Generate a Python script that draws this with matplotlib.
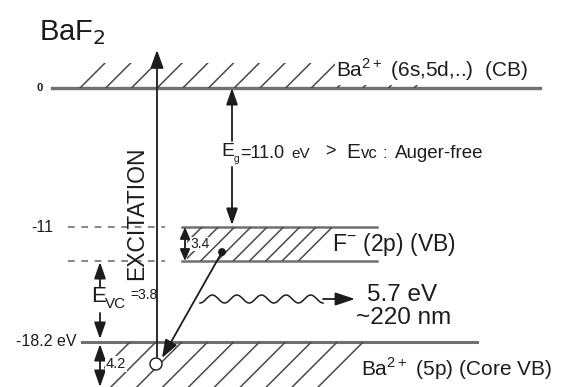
import numpy as np
import matplotlib.pyplot as plt
from matplotlib.patches import Rectangle, Circle

plt.rcParams['font.family'] = ['Liberation Sans', 'DejaVu Sans']

# energies (eV) of the band edges and the gaps written on the diagram
level_energy = [0, -11, -18.2]
level_text = ["0", "-11", "-18.2 eV"]
band_gap = 11.0
vb_width = 3.4
e_vc = 3.8
core_width = 4.2
photon_ev = 5.7
photon_nm = 220

# layout of the schematic (diagram units = pixels, not to scale)
y_cb, y_vb_top, y_vb_bot, y_core = 88, 227, 261, 342
ink = "#1c1c1c"
line_c = "#4a4a4a"
band_c = "#707070"

fig = plt.figure(figsize=(5.66, 3.87), dpi=100)
ax = fig.add_axes([0, 0, 1, 1])
ax.set_xlim(0, 566)
ax.set_ylim(387, 0)
ax.axis("off")


def arrow(x0, y0, x1, y1, hl=0.9, hw=0.35):
    ax.annotate("", xy=(x1, y1), xytext=(x0, y0),
                arrowprops=dict(arrowstyle=f"-|>,head_length={hl},head_width={hw}",
                                color=ink, lw=1.3, shrinkA=0, shrinkB=0,
                                mutation_scale=10))


def hatch(tops, dx, y_top, y_bot, xmin, xmax, lw=1.1):
    clip = Rectangle((xmin, y_top), xmax - xmin, y_bot - y_top, transform=ax.transData)
    for xt in tops:
        ln, = ax.plot([xt, xt - dx], [y_top, y_bot], color=line_c, lw=lw)
        ln.set_clip_path(clip)


def txt(x, y, s, size, **kw):
    kw.setdefault("ha", "left")
    kw.setdefault("va", "center")
    return ax.text(x, y, s, fontsize=size, color=ink, **kw)


white = dict(facecolor="white", edgecolor="none", pad=1)

# conduction band
ax.plot([52, 540], [y_cb, y_cb], color=band_c, lw=2.4)
hatch(np.arange(105, 460, 25.7), 25, 63, y_cb, 60, 460)

# valence band (F- 2p)
ax.plot([182, 377], [y_vb_top, y_vb_top], color=band_c, lw=1.8)
ax.plot([182, 377], [y_vb_bot, y_vb_bot], color=band_c, lw=1.8)
hatch(np.arange(202, 336, 16.3), 34, y_vb_top, y_vb_bot, 187, 332)

# core valence band (Ba2+ 5p)
ax.plot([82, 477], [y_core, y_core], color=band_c, lw=2.2)
hatch(np.arange(130, 365, 25.9), 45, y_core, 387, 104, 477)

# dashed guide lines
for yy in (y_vb_top, y_vb_bot):
    ax.plot([68, 165], [yy, yy], color=band_c, lw=1.2, ls=(0, (4, 4)))

# level labels
txt(40, y_cb, level_text[0], 8, ha="center", fontweight="bold")
txt(53, y_vb_top + 1, level_text[1], 11.5, ha="right")
txt(77, y_core - 1, level_text[2], 11.5, ha="right")

txt(39, 33, "BaF$_2$", 21)

# excitation
arrow(157, 357, 157, 50, hl=1.1, hw=0.4)
txt(137, 213, "EXCITATION", 16.5, rotation=90, ha="center")

# band gap arrows and label
arrow(232, 141, 232, y_cb, hl=1.0, hw=0.35)
arrow(232, 167, 232, y_vb_top - 2, hl=1.0, hw=0.35)
txt(221, 152, "E", 14)
txt(233.5, 159, "g", 7.5)
txt(240, 153, f"={band_gap:.1f}", 13)
txt(291, 154, "eV", 11)
txt(325, 152, ">", 13)
txt(346, 152, "E", 15)
txt(361, 154, "vc", 12)
txt(382, 153, ":", 12)
txt(395, 154, "Auger-free", 13.5)

# VB width
arrow(185, 244, 185, y_vb_top, hl=0.7, hw=0.3)
arrow(185, 244, 185, y_vb_bot, hl=0.7, hw=0.3)
txt(190, 244, f"{vb_width}", 10, bbox=dict(facecolor="white", edgecolor="none", pad=0.3))

# E_VC arrows
arrow(100, 287, 100, y_vb_bot + 1, hl=1.0, hw=0.35)
arrow(100, 313, 100, y_core - 3, hl=1.0, hw=0.35)
txt(91, 297, "E", 16)
txt(105, 304, "VC", 11)
txt(130, 295, f"={e_vc}", 10)

# core width arrows
arrow(100, 362, 100, y_core + 2, hl=1.0, hw=0.35)
arrow(100, 362, 100, 387, hl=1.0, hw=0.35)
txt(106, 364, f"{core_width}", 10.5, bbox=dict(facecolor="white", edgecolor="none", pad=0.5))

# hole and electron transition
ax.add_patch(Circle((222, 252), 3.2, color=ink, zorder=5))
ax.add_patch(Circle((156, 364), 6, facecolor="white", edgecolor=ink, lw=1.0, zorder=5))
arrow(222, 252, 162, 358, hl=1.1, hw=0.4)

# emitted photon (wavy arrow)
xw = np.linspace(200, 323, 300)
yw = 299 + 4.0 * np.sin((xw - 200) / 24.6 * 2 * np.pi + np.pi / 2)
ax.plot(xw, yw, color=ink, lw=1.1)
arrow(323, 299, 355, 299, hl=1.2, hw=0.4)
txt(367, 295, f"{photon_ev} eV", 17.5)
txt(356, 318, f"~{photon_nm} nm", 17.5)

# band labels
txt(336, 70, r"Ba$^{\mathregular{2+}}$ (6s,5d,..)  (CB)", 15, bbox=white)
txt(332, 244, r"F$^{\mathregular{-}}$ (2p) (VB)", 16.5, bbox=white)
txt(361, 369, r"Ba$^{\mathregular{2+}}$ (5p) (Core VB)", 15, bbox=white)

fig.savefig("out.png", dpi=100)
